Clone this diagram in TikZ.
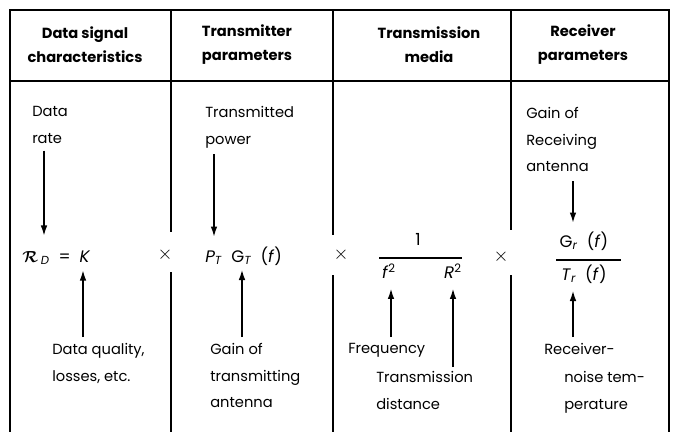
\documentclass[tikz,border=0pt]{standalone}
\usepackage{fontspec}
\setmainfont{Poppins}
\usepackage{amsmath,amssymb}
\usepackage{tikz}
\usetikzlibrary{arrows.meta,calc,positioning}

\begin{document}
\begin{tikzpicture}[x=0.75pt,y=-0.75pt,>={Latex[length=8pt,width=5pt]},
  head/.style={font=\bfseries\fontsize{11}{18}\selectfont,align=center,inner sep=0pt},
  lbl/.style={font=\fontsize{11}{20}\selectfont,align=left,inner sep=0pt,anchor=north west},
  eqn/.style={font=\fontsize{12.5}{14}\selectfont,inner sep=0pt,anchor=base},
  times/.style={font=\fontsize{15}{16}\selectfont,inner sep=0pt},
  rule/.style={line width=1.3pt},
  pointer/.style={line width=1.4pt,->}]
\useasboundingbox (0,0) rectangle (676,432);
\draw[rule] (10,432) -- (10,10) -- (669,10) -- (669,432);
\draw[rule] (10,81) -- (669,81);
\draw[rule] (171,10) -- (171,232) (171,272) -- (171,432);
\draw[rule] (333,10) -- (333,235) (333,275) -- (333,432);
\draw[rule] (511,10) -- (511,230) (511,275) -- (511,432);
\node[head] (hsig) at (85,45) {Data signal\\characteristics};
\node[head] (htx) at (247,45) {Transmitter\\parameters};
\node[head] (hmed) at (429,45) {Transmission\\media};
\node[head] (hrx) at (583,45) {Receiver\\parameters};
\node[lbl] (rate) at (32,106) {Data\\rate};
\node[lbl] (power) at (205,106) {Transmitted\\power};
\node[lbl] (rxgain) at (526,107) {Gain of\\Receiving\\antenna};
\node[lbl] (quality) at (52,343) {Data quality,\\losses, etc.};
\node[lbl] (txgain) at (210,343) {Gain of\\transmitting\\antenna};
\node[lbl] (freq) at (348,343) {Frequency};
\node[lbl] (dist) at (376,371) {Transmission\\distance};
\node[lbl] (noisea) at (544,343) {Receiver-};
\node[lbl] (noiseb) at (564,371) {noise tem-\\perature};
\node[eqn,anchor=base west] (rdk) at (22,262) {{\boldmath$\mathcal{R}$}\,\textsubscript{\textit{D}} \ = \ \textit{K}};
\node[eqn,anchor=base west] (ptgt) at (205,262) {\textit{P}\textsubscript{\textit{T}}\ \ G\textsubscript{\textit{T}}\ \ (\textit{f})};
\node[eqn] (one) at (418,245) {1};
\node[eqn] (f2) at (389,278) {\textit{f}\textsuperscript{2}};
\node[eqn] (r2) at (453,278) {\textit{R}\textsuperscript{2}};
\node[eqn] (gr) at (584,247) {G\textsubscript{\textit{r}}\ \ (\textit{f})};
\node[eqn] (tr) at (584,280) {\textit{T}\textsubscript{\textit{r}}\ \ (\textit{f})};
\node[times] (xa) at (165,255) {$\times$};
\node[times] (xb) at (341,255) {$\times$};
\node[times] (xc) at (501,257) {$\times$};
\draw[rule] (379,258) -- (462,258);
\draw[rule] (556,260) -- (621,260);
\draw[pointer] ($(rate.south west)+(12,7)$) -- ($(rate.south west |- rdk.north)+(12,-14)$);
\draw[pointer] ($(power.south west)+(9,6)$) -- ($(power.south west |- ptgt.north)+(9,-9)$);
\draw[pointer] ($(rxgain.south west)+(47,9)$) -- ($(rxgain.south west |- gr.north)+(47,-8)$);
\draw[pointer] ($(quality.north west)+(31,-6)$) -- ($(quality.north west |- rdk.south)+(31,5)$);
\draw[pointer] ($(txgain.north west)+(32,-6)$) -- ($(txgain.north west |- ptgt.south)+(32,4)$);
\draw[pointer] ($(freq.north -| f2)+(2,-6)$) -- ($(f2.south)+(2,10)$);
\draw[pointer] ($(dist.north -| r2)+(0,-4)$) -- ($(r2.south)+(0,10)$);
\draw[pointer] ($(noisea.north west)+(29,-6)$) -- ($(noisea.north west |- tr.south)+(29,7)$);
\end{tikzpicture}
\end{document}
